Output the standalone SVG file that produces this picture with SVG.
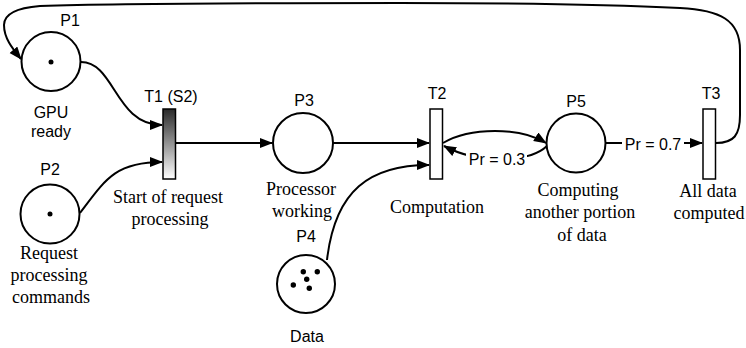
<svg xmlns="http://www.w3.org/2000/svg" width="746" height="348" viewBox="0 0 746 348">
<style>
.place{fill:#fff;stroke:#000;stroke-width:2}
.trans{fill:#fff;stroke:#000;stroke-width:1.5}
.tok{fill:#000}
.arc{fill:none;stroke:#000;stroke-width:2}
.arr{marker-end:url(#ah)}
.sans{font-family:"Liberation Sans",Arial,sans-serif;font-size:16px;fill:#000;text-anchor:middle}
.serif{font-family:"Liberation Serif","Times New Roman",serif;font-size:18px;fill:#000;text-anchor:middle}
.bg{fill:#fff}
</style>
<defs>
<marker id="ah" markerUnits="userSpaceOnUse" markerWidth="13" markerHeight="11" refX="12" refY="5" orient="auto">
<path d="M0,0 L13,5 L0,10 z" fill="#000"/>
</marker>
<linearGradient id="g1" x1="0" y1="0" x2="0" y2="1">
<stop offset="0" stop-color="#2a2a2a"/>
<stop offset="1" stop-color="#ffffff"/>
</linearGradient>
</defs>
<rect width="746" height="348" fill="#fff"/>
<g id="connectors">
<path class="arc arr" d="M81,62 C115,62 115,125 162,125"/>
<path class="arc arr" d="M80,213 C105,180 115,162 162,162"/>
<path class="arc arr" d="M176,143 L272,143"/>
<path class="arc arr" d="M333,143 L429,143"/>
<path class="arc arr" d="M327,260 C335,190 370,165 429,165"/>
<path class="arc arr" d="M443,143 C470,127 520,127 546,143"/>
<path class="arc arr" d="M547,146 C530,162 480,165 444,146"/>
<rect class="bg" x="466" y="151" width="61" height="17"/>
<text class="sans" x="497" y="165">Pr = 0.3</text>
<path class="arc arr" d="M605,143 L702,143"/>
<rect class="bg" x="622" y="135" width="62" height="17"/>
<text class="sans" x="653" y="149.5">Pr = 0.7</text>
<path class="arc arr" d="M716,143 C734,143 740,135 740,115 L740,50 C740,20 720,10 680,8 C600,4 500,3 400,3 C250,3 100,4 40,6 C15,8 4,15 4,25 C4,38 12,48 21,59"/>
</g>
<g id="P1">
<circle class="place" cx="51" cy="61.5" r="29.5"/>
<circle class="tok" cx="51" cy="62" r="2.5"/>
<text class="sans" x="70" y="26">P1</text>
<text class="sans" x="51" y="118">GPU</text>
<text class="sans" x="51" y="137">ready</text>
</g>
<g id="P2">
<circle class="place" cx="50" cy="214" r="29.5"/>
<circle class="tok" cx="50" cy="214" r="2.5"/>
<text class="sans" x="50" y="175">P2</text>
<text class="serif" x="49" y="259">Request</text>
<text class="serif" x="49" y="281">processing</text>
<text class="serif" x="51" y="303">commands</text>
</g>
<g id="T1">
<rect x="163" y="109" width="12.5" height="70" fill="url(#g1)" stroke="#000" stroke-width="1.5"/>
<text class="sans" x="171" y="102">T1 (S2)</text>
<text class="serif" x="168" y="203">Start of request</text>
<text class="serif" x="170" y="225">processing</text>
</g>
<g id="P3">
<circle class="place" cx="303" cy="143" r="30"/>
<text class="sans" x="304" y="106">P3</text>
<text class="serif" x="301" y="195">Processor</text>
<text class="serif" x="302" y="217">working</text>
</g>
<g id="T2">
<rect class="trans" x="430" y="109" width="12.5" height="70"/>
<text class="sans" x="437" y="99">T2</text>
<text class="serif" x="437" y="213">Computation</text>
</g>
<g id="P4">
<circle class="place" cx="306" cy="284" r="29"/>
<circle class="tok" cx="303.3" cy="271.7" r="2.7"/>
<circle class="tok" cx="317.3" cy="271.7" r="2.7"/>
<circle class="tok" cx="306.7" cy="279.3" r="2.7"/>
<circle class="tok" cx="293.3" cy="285" r="2.7"/>
<circle class="tok" cx="309.3" cy="288.3" r="2.7"/>
<text class="sans" x="306" y="242">P4</text>
<text class="sans" x="307" y="342">Data</text>
</g>
<g id="P5">
<circle class="place" cx="576" cy="143" r="29.5"/>
<text class="sans" x="576" y="107">P5</text>
<text class="serif" x="578" y="196">Computing</text>
<text class="serif" x="580" y="218">another portion</text>
<text class="serif" x="582" y="241">of data</text>
</g>
<g id="T3">
<rect class="trans" x="703" y="109" width="12.5" height="70"/>
<text class="sans" x="711" y="99">T3</text>
<text class="serif" x="708" y="197">All data</text>
<text class="serif" x="709" y="219">computed</text>
</g>
</svg>
